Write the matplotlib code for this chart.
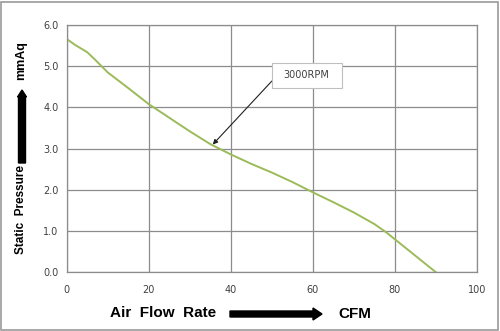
import matplotlib
matplotlib.use("Agg")
import matplotlib.pyplot as plt
from matplotlib.patches import FancyArrow, Rectangle

# Fan P-Q curve at 3000 RPM
flow = [0, 2, 5, 7, 10, 15, 20, 25, 30, 35, 40, 45, 50, 55, 60, 65, 70, 75, 78, 80, 83, 86, 90]
pressure = [5.66, 5.52, 5.34, 5.15, 4.85, 4.47, 4.08, 3.75, 3.42, 3.11, 2.86, 2.63, 2.42, 2.19, 1.94, 1.70, 1.45, 1.17, 0.96, 0.80, 0.56, 0.32, 0.0]

x_ticks = [0, 20, 40, 60, 80, 100]
y_ticks = [0.0, 1.0, 2.0, 3.0, 4.0, 5.0, 6.0]
curve_label = "3000RPM"

W, H = 500, 331
fig = plt.figure(figsize=(W / 100, H / 100), dpi=100)
ax = fig.add_axes([66.7 / W, 1 - 272.3 / H, (477 - 66.7) / W, (272.3 - 25) / H])

ax.plot(flow, pressure, color="#9bbb59", linewidth=1.4)
ax.set_xlim(0, 100)
ax.set_ylim(0, 6)
ax.set_xticks(x_ticks)
ax.set_yticks(y_ticks)
ax.set_yticklabels([f"{v:.1f}" for v in y_ticks])
ax.grid(True, color="#8c8c8c", linewidth=0.9)
for s in ax.spines.values():
    s.set_color("#8c8c8c")
    s.set_linewidth(0.9)
ax.tick_params(length=0, labelsize=7, colors="#404040", pad=6)
ax.tick_params(axis="x", pad=9)

# callout box + leader arrow from its lower-left corner
ax.add_patch(Rectangle((50.0, 4.47), 17.1, 0.61, fc="white", ec="#bfbfbf",
                       lw=0.8, zorder=5))
ax.text(58.5, 4.78, curve_label, fontsize=7, color="#404040",
        ha="center", va="center", zorder=6)
ax.annotate("", xy=(35.6, 3.1), xytext=(50.0, 4.64),
            arrowprops=dict(arrowstyle="-|>", color="#202020", lw=0.8,
                            shrinkA=0, shrinkB=0, mutation_scale=7))

# axis titles with the thick arrows
lab = dict(fontweight="bold", family="Liberation Sans", ha="center", va="center")
fig.text(21 / W, 1 - 210 / H, "Static  Pressure", rotation=90, fontsize=8.5, **lab)
fig.text(21 / W, 1 - 61 / H, "mmAq", rotation=90, fontsize=9, **lab)
fig.patches.append(FancyArrow(22 / W, 1 - 163 / H, 0, 73 / H, width=7 / W,
                              head_width=9 / W, head_length=7 / H,
                              length_includes_head=True, color="black",
                              transform=fig.transFigure))

fig.text(163 / W, 1 - 313 / H, "Air  Flow  Rate", fontsize=11, **lab)
fig.text(355 / W, 1 - 314 / H, "CFM", fontsize=11, **lab)
fig.patches.append(FancyArrow(230 / W, 1 - 314 / H, 92 / W, 0, width=6 / H,
                              head_width=12 / H, head_length=9 / W,
                              length_includes_head=True, color="black",
                              transform=fig.transFigure))

# outer frame
fig.patches.append(Rectangle((1 / W, 1 / H), 1 - 3 / W, 1 - 3 / H, fill=False,
                             ec="#999999", lw=1.2, transform=fig.transFigure))

fig.savefig("out.png", dpi=100)
